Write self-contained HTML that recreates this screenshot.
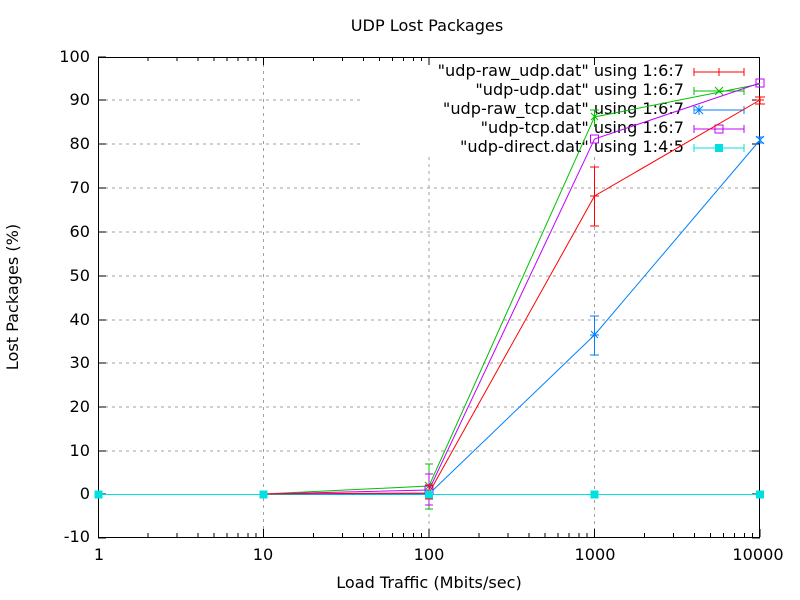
<!DOCTYPE html>
<html><head><meta charset="utf-8"><style>body{margin:0;background:#fff}svg{display:block}text{font-family:"DejaVu Sans",sans-serif;font-size:16.1px;fill:#000}</style></head><body>
<svg width="800" height="600" xmlns="http://www.w3.org/2000/svg">
<rect width="800" height="600" fill="#fff"/>
<g stroke="#a0a0a0" stroke-dasharray="3,4" stroke-width="1" fill="none">
<path d="M98,451H760M98,407H760M98,363H760M98,320H760M98,276H760M98,232H760M98,188H760M98,100H363M98,144H363"/>
<path d="M263.5,57V537M429,157V537M594.5,157V537M429,57V60M594.5,57V60"/>
</g>
<g stroke="#000" stroke-width="1" fill="none">
<rect x="98.5" y="57.5" width="661" height="480"/>
<path d="M98,538h8M98,494h8M98,451h8M98,407h8M98,363h8M98,320h8M98,276h8M98,232h8M98,188h8M98,144h8M98,100h8M98,57h8M760,538h-8M760,494h-8M760,451h-8M760,407h-8M760,363h-8M760,320h-8M760,276h-8M760,232h-8M760,188h-8M760,144h-8M760,100h-8"/>
<path d="M98.5,537v-8M263.5,537v-8M429,537v-8M594.5,537v-8M760,537v-8M98.5,57v8M263.5,57v8M429,57v8M594.5,57v8"/>
<path d="
M148,537v-4M177,537v-4M198,537v-4M214,537v-4M227,537v-4M238,537v-4M248,537v-4M256,537v-4
M313.5,537v-4M342.5,537v-4M363.5,537v-4M379.5,537v-4M392.5,537v-4M403.5,537v-4M413.5,537v-4M421.5,537v-4
M479,537v-4M508,537v-4M529,537v-4M545,537v-4M558,537v-4M569,537v-4M579,537v-4M587,537v-4
M644.5,537v-4M673.5,537v-4M694.5,537v-4M710.5,537v-4M723.5,537v-4M734.5,537v-4M744.5,537v-4M752.5,537v-4
M148,57v4M177,57v4M198,57v4M214,57v4M227,57v4M238,57v4M248,57v4M256,57v4
M313.5,57v4M342.5,57v4M363.5,57v4M379.5,57v4M392.5,57v4M403.5,57v4M413.5,57v4M421.5,57v4"/>
</g>
<g text-anchor="end">
<text x="90" y="542">-10</text><text x="90" y="499">0</text><text x="90" y="456">10</text><text x="90" y="412">20</text><text x="90" y="368">30</text><text x="90" y="325">40</text><text x="90" y="281">50</text><text x="90" y="237">60</text><text x="90" y="193">70</text><text x="90" y="149">80</text><text x="90" y="105">90</text><text x="90" y="62">100</text>
</g>
<g text-anchor="middle">
<text x="99" y="560">1</text><text x="263" y="560">10</text><text x="429" y="560">100</text><text x="595" y="560">1000</text><text x="758" y="560">10000</text>
<text x="429" y="588">Load Traffic (Mbits/sec)</text>
<text x="427" y="31">UDP Lost Packages</text>
<text transform="translate(18,297) rotate(-90)">Lost Packages (%)</text>
</g>
<g text-anchor="end">
<text x="684" y="76">"udp-raw_udp.dat" using 1:6:7</text>
<text x="684" y="95">"udp-udp.dat" using 1:6:7</text>
<text x="684" y="114">"udp-raw_tcp.dat" using 1:6:7</text>
<text x="684" y="133">"udp-tcp.dat" using 1:6:7</text>
<text x="684" y="152">"udp-direct.dat" using 1:4:5</text>
</g>
<g fill="none" stroke-width="1">
<path d="M98,494.5H760" stroke="#00e0e0"/>
<g stroke="#0080ff"><polyline points="263.5,494 429,494 594.5,335 760,140"/><path d="M594.5,316v39M590,316h9M590,355h9M760,137v6M756,137h8M756,143h8"/><path d="M591,331l7,7M591,338l7,-7M594.5,330v10M590,335h9M756,136l8,8M756,144l8,-8"/>
<path d="M694,110h50M694,106v8M744,106v8M695,106l8,8M695,114l8,-8M699,105v10"/></g>
<g stroke="#00c000"><polyline points="263.5,494 429,486 594.5,117 760,84"/><path d="M429,464v45M425,464h8M425,509h8M594.5,110v17M590,110h9M591,113l7,7M591,120l7,-7M425,482l8,8M425,490l8,-8"/>
<path d="M694,91h50M694,87v8M744,87v8M715,87l8,8M715,95l8,-8"/></g>
<g stroke="#c000ff"><polyline points="263.5,494 429,490 594.5,139 760,83"/><path d="M429,474v31M425,474h8M425,505h8"/><rect x="590.5" y="135" width="8" height="8"/><rect x="756" y="79" width="8" height="8"/><rect x="425" y="486" width="8" height="8"/>
<path d="M694,129h50M694,125v8M744,125v8"/><rect x="715" y="125" width="8" height="8"/></g>
<g stroke="#ff0000"><polyline points="263.5,494 429,493 594.5,196 760,100"/><path d="M594.5,167v59M590,167h9M590,226h9M760,97v7M755,97h10M755,104h10M590,196h9M756,100h8M429,485v14M425,485h8M425,499h8"/>
<path d="M694,72h50M694,68v8M744,68v8M719,68v8"/></g>
<g stroke="#00e0e0"><path d="M694,148h50M694,144v8M744,144v8"/></g>
</g>
<g fill="#00e0e0">
<rect x="94.5" y="490.5" width="8" height="8"/><rect x="259.5" y="490.5" width="8" height="8"/><rect x="425" y="490.5" width="8" height="8"/><rect x="590.5" y="490.5" width="8" height="8"/><rect x="756" y="490.5" width="8" height="8"/><rect x="715" y="144" width="8" height="8"/>
</g>
</svg>
</body></html>
